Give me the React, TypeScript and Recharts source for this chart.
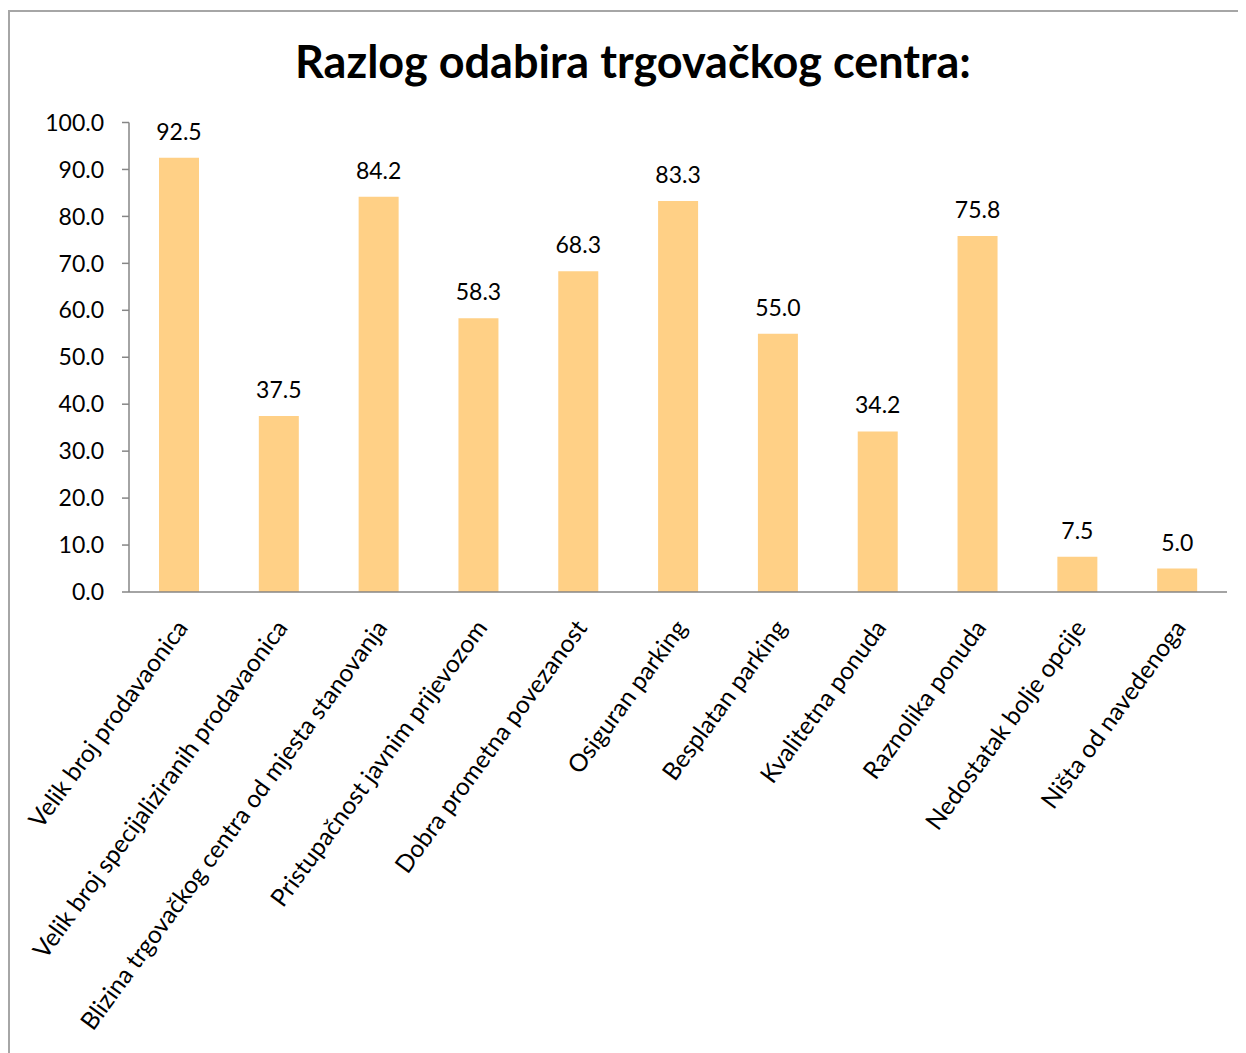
import React from 'react';
import { BarChart, Bar, XAxis, YAxis, LabelList } from 'recharts';

const categories = [
  'Velik broj prodavaonica',
  'Velik broj specijaliziranih prodavaonica',
  'Blizina trgovačkog centra od mjesta stanovanja',
  'Pristupačnost javnim prijevozom',
  'Dobra prometna povezanost',
  'Osiguran parking',
  'Besplatan parking',
  'Kvalitetna ponuda',
  'Raznolika ponuda',
  'Nedostatak bolje opcije',
  'Ništa od navedenoga',
];
const values = [92.5, 37.5, 84.2, 58.3, 68.3, 83.3, 55.0, 34.2, 75.8, 7.5, 5.0];
const yTicks = [0, 10, 20, 30, 40, 50, 60, 70, 80, 90, 100];
const boundaryTicks = [0, 1, 2, 3, 4, 5, 6, 7, 8, 9, 10, 11];

const data = categories.map((name, i) => ({ name, value: values[i] }));

const FONT = 'Lato, "Noto Sans", sans-serif';
const AXIS = '#868686';

const CatTick = (props: any) => {
  const { x, y, payload } = props;
  return (
    <g transform={`translate(${x + 3},${y + 22}) rotate(-53.8)`}>
      <text x={0} y={0} dy="0.35em" textAnchor="end" fill="#000" fontSize={24.5} fontFamily={FONT}>
        {payload.value}
      </text>
    </g>
  );
};

export default function App() {
  return (
    <div style={{ position: 'relative', width: 1238, height: 1045, overflow: 'hidden', background: '#fff' }}>
      <div
        style={{
          position: 'absolute',
          left: 0,
          top: 2,
          width: 1400,
          height: 1200,
          border: '2px solid #a6a6a6',
          boxSizing: 'border-box',
        }}
      />
      <div
        style={{
          position: 'absolute',
          left: 0,
          top: 26,
          width: 1250,
          textAlign: 'center',
          fontFamily: FONT,
          fontWeight: 'bold',
          fontSize: 45,
          lineHeight: '54px',
          color: '#000',
        }}
      >
        Razlog odabira trgovačkog centra:
      </div>
      <div style={{ position: 'absolute', left: 0, top: 0 }}>
        <BarChart
          width={1238}
          height={1045}
          data={data}
          margin={{ top: 114.5, right: 19, left: 0, bottom: 160 }}
        >
          <XAxis
            xAxisId={0}
            type="number"
            domain={[0, 11]}
            ticks={boundaryTicks}
            tick={false}
            tickSize={9}
            height={1}
            stroke={AXIS}
            axisLine={{ stroke: AXIS, strokeWidth: 1.5 }}
            tickLine={{ stroke: AXIS, strokeWidth: 1.5 }}
          />
          <XAxis
            xAxisId={1}
            dataKey="name"
            type="category"
            interval={0}
            tickLine={false}
            axisLine={false}
            height={300}
            tick={<CatTick />}
          />
          <YAxis
            domain={[0, 100]}
            ticks={yTicks}
            interval={0}
            width={121}
            tickSize={7}
            tickMargin={18}
            tickFormatter={(v: number) => v.toFixed(1)}
            tick={{ fill: '#000', fontSize: 23, fontFamily: FONT }}
            axisLine={{ stroke: AXIS, strokeWidth: 1.5 }}
            tickLine={{ stroke: AXIS, strokeWidth: 1.5 }}
          />
          <Bar xAxisId={1} dataKey="value" fill="#FFD086" barSize={40} isAnimationActive={false}>
            <LabelList
              dataKey="value"
              position="top"
              offset={18}
              formatter={(v: any) => Number(v).toFixed(1)}
              style={{ fill: '#000', fontSize: 23, fontFamily: FONT }}
            />
          </Bar>
        </BarChart>
      </div>
    </div>
  );
}
